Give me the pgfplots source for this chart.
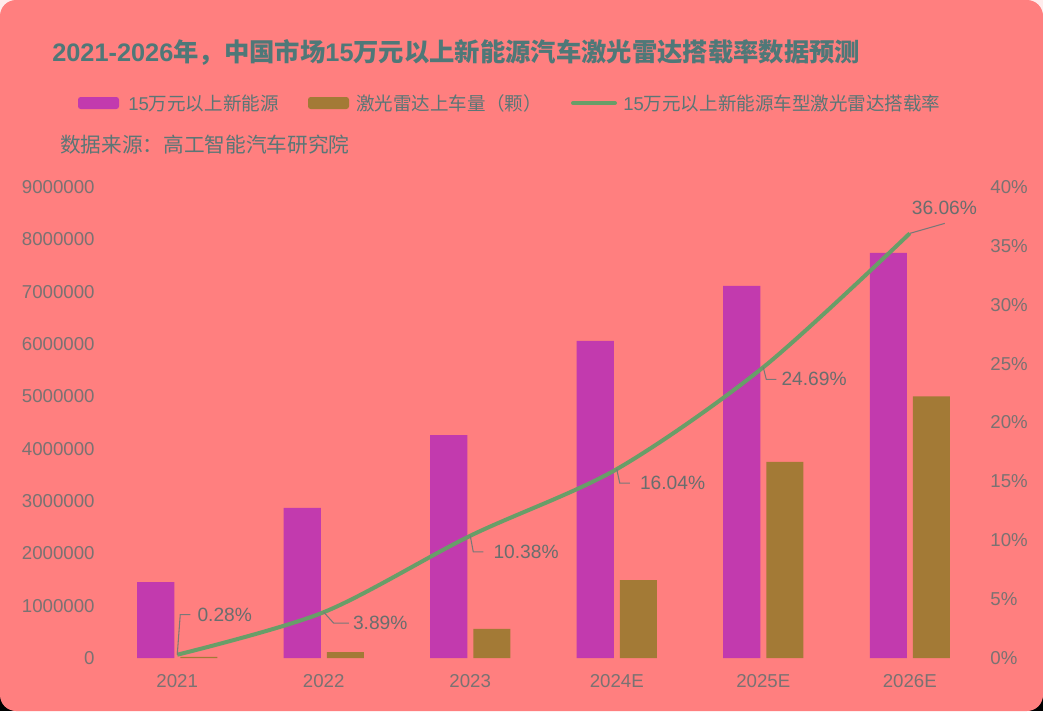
\documentclass[border=0pt]{standalone}
\usepackage{pgfplots}
\pgfplotsset{compat=1.18}
\usepackage{fontspec}
\setmainfont{Liberation Sans}
\newfontfamily\cjk{Noto Sans CJK SC}
\definecolor{bg}{RGB}{255,127,127}
\definecolor{barA}{RGB}{194,58,174}
\definecolor{barB}{RGB}{163,122,54}
\definecolor{lineC}{RGB}{104,158,104}
\definecolor{titlec}{RGB}{79,120,120}
\definecolor{legc}{RGB}{90,118,118}
\definecolor{tickc}{RGB}{122,114,114}
\definecolor{labc}{RGB}{105,110,110}
\definecolor{leadc}{RGB}{120,120,120}
\pgfplotsset{
  base/.style={
    at={(78pt,-493.5pt)}, anchor=south west,
    scale only axis, width=659.25pt, height=353.25pt,
    xmin=-0.5, xmax=5.5,
    axis line style={draw=none}, major tick length=0pt,
    /pgf/number format/assume math mode=true,
    tick label style={font=\fontsize{14}{14}\selectfont, text=tickc},
  }
}
\begin{document}
\begin{tikzpicture}
\begin{scope}[x=0.75pt,y=-0.75pt]
  \fill[white!85!bg] (0,0) rectangle (1043,360);
  \fill[black] (0,360) rectangle (1043,711);
  \fill[bg, rounded corners=12pt] (0,0) rectangle (1043,711);
  \node[anchor=west, inner sep=0, text=titlec, font=\fontsize{19}{21}\selectfont\bfseries]
    at (52,52) {2021-2026{\cjk\bfseries 年，中国市场}15{\cjk\bfseries 万元以上新能源汽车激光雷达搭载率数据预测}};
  \fill[barA, rounded corners=2pt] (78,97) rectangle (119,109);
  \node[anchor=west, inner sep=0, text=legc, font=\fontsize{13.9}{15}\selectfont] at (128,103) {15{\cjk 万元以上新能源}};
  \fill[barB, rounded corners=2pt] (308,97) rectangle (349,109);
  \node[anchor=west, inner sep=0, text=legc, font=\fontsize{13.9}{15}\selectfont] at (356,103) {{\cjk 激光雷达上车量（颗）}};
  \draw[lineC, line width=3pt, line cap=round] (573,103) -- (615,103);
  \node[anchor=west, inner sep=0, text=legc, font=\fontsize{13.9}{15}\selectfont] at (623,103) {15{\cjk 万元以上新能源车型激光雷达搭载率}};
  \node[anchor=west, inner sep=0, text=legc, font=\fontsize{15.5}{17}\selectfont] at (60,145) {{\cjk 数据来源：高工智能汽车研究院}};
\end{scope}

\begin{axis}[base,
  ymin=0, ymax=9000000,
  ybar=4.5pt, bar width=27.75pt,
  xtick={0,1,2,3,4,5}, xticklabels={2021,2022,2023,2024E,2025E,2026E},
  xticklabel style={yshift=-9pt},
  ytick={0,1000000,2000000,3000000,4000000,5000000,6000000,7000000,8000000,9000000},
  scaled y ticks=false,
  yticklabel style={/pgf/number format/fixed, /pgf/number format/1000 sep={}, xshift=-3.5pt},
]
\addplot[fill=barA, draw=none] coordinates {(0,1450000) (1,2870000) (2,4260000) (3,6060000) (4,7110000) (5,7740000)};
\addplot[fill=barB, draw=none] coordinates {(0,20000) (1,112000) (2,555000) (3,1490000) (4,3750000) (5,5000000)};
\end{axis}

\begin{axis}[base,
  ymin=0, ymax=40,
  axis x line=none, axis y line*=right,
  ytick={0,5,10,15,20,25,30,35,40},
  yticklabel={\pgfmathprintnumber{\tick}\%},
  yticklabel style={xshift=2pt},
]
\addplot[lineC, line width=3pt, smooth, mark=none] coordinates {(0,0.28) (1,3.89) (2,10.38) (3,16.04) (4,24.69) (5,36.06)};
\begin{scope}[every node/.style={text=labc, font=\fontsize{14.4}{15}\selectfont, inner sep=0}]
\draw[leadc, line width=0.8pt] (axis cs:0,0.28) -- ++(2.25pt,30pt) -- ++(7.5pt,0pt);
\node[anchor=west] at ([shift={(15pt,30pt)}]axis cs:0,0.28) {0.28\%};
\draw[leadc, line width=0.8pt] (axis cs:1,3.89) -- ++(7.5pt,-8.25pt) -- ++(11.25pt,0pt);
\node[anchor=west] at ([shift={(21.75pt,-8.25pt)}]axis cs:1,3.89) {3.89\%};
\draw[leadc, line width=0.8pt] (axis cs:2,10.38) -- ++(2.25pt,-12pt) -- ++(7.5pt,0pt);
\node[anchor=west] at ([shift={(17.25pt,-12pt)}]axis cs:2,10.38) {10.38\%};
\draw[leadc, line width=0.8pt] (axis cs:3,16.04) -- ++(2.25pt,-10.5pt) -- ++(7.5pt,0pt);
\node[anchor=west] at ([shift={(17.25pt,-10.5pt)}]axis cs:3,16.04) {16.04\%};
\draw[leadc, line width=0.8pt] (axis cs:4,24.69) -- ++(2.25pt,-9pt) -- ++(7.5pt,0pt);
\node[anchor=west] at ([shift={(13.5pt,-9pt)}]axis cs:4,24.69) {24.69\%};
\draw[leadc, line width=0.8pt] (axis cs:5,36.06) -- ++(26.25pt,7.5pt);
\node[anchor=center] at ([shift={(26pt,19.5pt)}]axis cs:5,36.06) {36.06\%};
\end{scope}
\end{axis}
\end{tikzpicture}
\end{document}
